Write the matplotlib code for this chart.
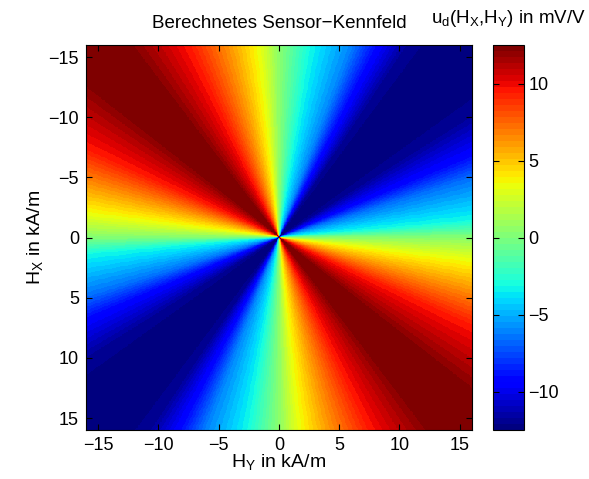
import numpy as np
import matplotlib
matplotlib.use('Agg')
import matplotlib.pyplot as plt

plt.rcParams['font.family'] = ['Liberation Sans', 'DejaVu Sans']
plt.rcParams['mathtext.fontset'] = 'custom'
plt.rcParams['mathtext.rm'] = 'Liberation Sans'

# angular profile of u_d read off the border of the map
# phi = atan2(H_X, H_Y) in degrees, folded onto [0, 180)
phi_deg = [0.0, 6.2, 14.7, 24.5, 38.9, 45.0, 52.4, 58.0, 65.2, 76.0, 84.6, 90.0,
           99.2, 110.6, 117.7, 124.3, 135.0, 147.0, 156.4, 163.0, 175.0, 180.0]
u_mv = [0.3, 3.1, 6.0, 9.4, 12.3, 12.5, 12.2, 11.0, 9.4, 6.0, 3.1, 0.5,
        -3.1, -6.0, -9.4, -12.0, -12.5, -12.0, -9.4, -6.5, -3.1, 0.3]

h_lim = 16
h_ticks = [-15, -10, -5, 0, 5, 10, 15]
u_lim = 12.5
u_ticks = [-10, -5, 0, 5, 10]

hy = np.linspace(-h_lim, h_lim, 500)
hx = np.linspace(-h_lim, h_lim, 500)
HY, HX = np.meshgrid(hy, hx)
phi = np.degrees(np.arctan2(HX, HY)) % 180.0
U = np.interp(phi, phi_deg, u_mv)

fig = plt.figure(figsize=(5.89, 4.79), dpi=100)
ax = fig.add_axes([0.146, 0.102, 0.655, 0.804])
cax = fig.add_axes([0.837, 0.102, 0.052, 0.804])

im = ax.imshow(U, extent=[-h_lim, h_lim, h_lim, -h_lim], origin='upper',
               aspect='auto', cmap=plt.get_cmap('jet', 64),
               vmin=-u_lim, vmax=u_lim, interpolation='nearest')

ax.set_xticks(h_ticks)
ax.set_yticks(h_ticks)
ax.tick_params(direction='in', top=True, right=True, length=4, labelsize=13, pad=5)
ax.set_xlabel(r'H$_\mathrm{Y}$ in kA/m', fontsize=14, labelpad=-1)
ax.set_ylabel(r'H$_\mathrm{X}$ in kA/m', fontsize=14, labelpad=2)
ax.set_title('Berechnetes Sensor\u2212Kennfeld', fontsize=13.5, pad=12)

cb = fig.colorbar(im, cax=cax, ticks=u_ticks)
cb.ax.tick_params(direction='in', left=True, right=True, length=4, labelsize=13)
cb.outline.set_linewidth(0.8)
fig.text(0.864, 0.962, r'u$_\mathrm{d}$(H$_\mathrm{X}$,H$_\mathrm{Y}$) in mV/V',
         ha='center', va='center', fontsize=13.5)

fig.savefig('out.png', dpi=100)
